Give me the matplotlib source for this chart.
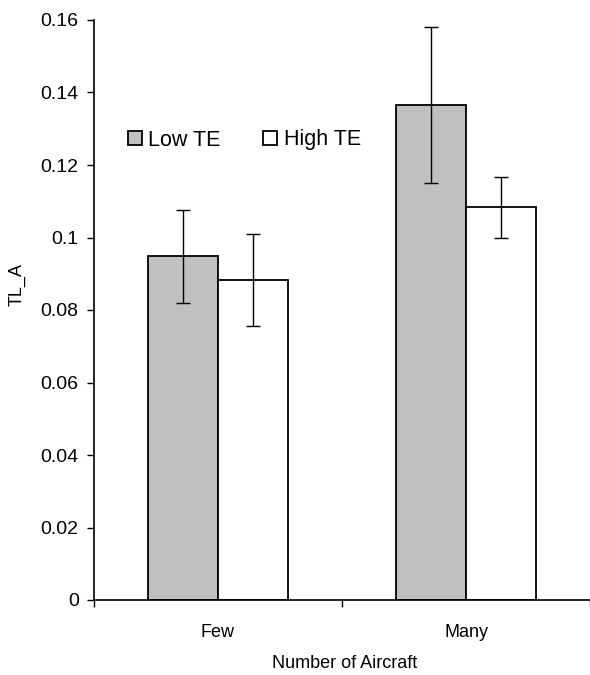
import matplotlib.pyplot as plt
import numpy as np

plt.rcParams['font.family'] = ['Liberation Sans', 'DejaVu Sans']

categories = ['Few', 'Many']
series = ['Low TE', 'High TE']
low_te = [0.0948, 0.1365]
high_te = [0.0883, 0.1083]
low_err = [0.0129, 0.0215]
high_err = [0.0128, 0.0084]
colors = ['#c0c0c0', 'white']

W, H = 590, 675
fig = plt.figure(figsize=(W / 100, H / 100), dpi=100)
ax = fig.add_axes([94 / W, 75 / H, (W - 94) / W, 580 / H])

x = np.arange(len(categories))
bw = 0.282
ax.bar(x - bw / 2, low_te, bw, color=colors[0], edgecolor='black', linewidth=1.3, label=series[0])
ax.bar(x + bw / 2, high_te, bw, color=colors[1], edgecolor='black', linewidth=1.3, label=series[1])
ax.errorbar(x - bw / 2, low_te, yerr=low_err, fmt='none', ecolor='black', elinewidth=1, capsize=5, capthick=1)
ax.errorbar(x + bw / 2, high_te, yerr=high_err, fmt='none', ecolor='black', elinewidth=1, capsize=5, capthick=1)

ax.set_xlim(-0.5, (W - 220) / 252)
ax.set_ylim(0, 0.16)
ax.set_yticks(np.arange(0, 0.161, 0.02))
ax.set_yticklabels(['0', '0.02', '0.04', '0.06', '0.08', '0.1', '0.12', '0.14', '0.16'])
ax.set_xticks(x)
ax.set_xticklabels(categories)
ax.set_xticks([-0.5, 0.5, 1.5], minor=True)
ax.tick_params(axis='x', which='major', length=0, pad=17, labelsize=13)
ax.tick_params(axis='x', which='minor', length=5, width=1, direction='out')
ax.tick_params(axis='y', length=5, width=1, direction='out', labelsize=14, pad=6)

for s in ['top', 'right']:
    ax.spines[s].set_visible(False)
for s in ['left', 'bottom']:
    ax.spines[s].set_linewidth(1.2)

ax.set_xlabel('Number of Aircraft', fontsize=13)
ax.xaxis.set_label_coords((345 - 94) / (W - 94), -55 / 580)
ax.set_ylabel('TL_A', fontsize=13)
ax.yaxis.set_label_coords(-68 / (W - 94), (600 - 285) / 580)

ax.legend(ncol=2, frameon=False, fontsize=15.5, handlelength=0.65, handleheight=0.65,
          handletextpad=0.3, columnspacing=2.0, loc='center left',
          bbox_to_anchor=(25 / (W - 94), (600 - 140) / 580), borderaxespad=0)

fig.savefig('out.png', dpi=100)
